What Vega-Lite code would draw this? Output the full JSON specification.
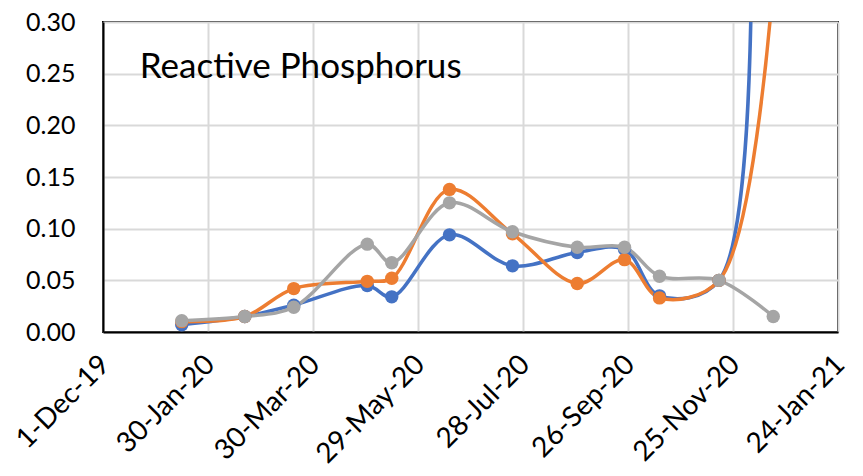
{
  "$schema": "https://vega.github.io/schema/vega-lite/v6.json",
  "autosize": "none",
  "width": 735,
  "height": 310,
  "padding": {"left": 103, "top": 22, "right": 25, "bottom": 144},
  "background": "white",
  "config": {
    "font": "Lato",
    "view": {"stroke": "black", "strokeWidth": 2}
  },
  "data": {
    "values": [
      {"date": "2020-01-15", "series": "Site 1", "value": 0.007},
      {"date": "2020-02-20", "series": "Site 1", "value": 0.015},
      {"date": "2020-03-19", "series": "Site 1", "value": 0.026},
      {"date": "2020-04-30", "series": "Site 1", "value": 0.045},
      {"date": "2020-05-14", "series": "Site 1", "value": 0.034},
      {"date": "2020-06-16", "series": "Site 1", "value": 0.094},
      {"date": "2020-07-22", "series": "Site 1", "value": 0.064},
      {"date": "2020-08-28", "series": "Site 1", "value": 0.077},
      {"date": "2020-09-24", "series": "Site 1", "value": 0.08},
      {"date": "2020-10-14", "series": "Site 1", "value": 0.035},
      {"date": "2020-11-17", "series": "Site 1", "value": 0.05},
      {"date": "2020-11-30", "series": "Site 1", "value": 0.8},
      {"date": "2020-01-15", "series": "Site 2", "value": 0.01},
      {"date": "2020-02-20", "series": "Site 2", "value": 0.015},
      {"date": "2020-03-19", "series": "Site 2", "value": 0.042},
      {"date": "2020-04-30", "series": "Site 2", "value": 0.049},
      {"date": "2020-05-14", "series": "Site 2", "value": 0.052},
      {"date": "2020-06-16", "series": "Site 2", "value": 0.138},
      {"date": "2020-07-22", "series": "Site 2", "value": 0.095},
      {"date": "2020-08-28", "series": "Site 2", "value": 0.047},
      {"date": "2020-09-24", "series": "Site 2", "value": 0.07},
      {"date": "2020-10-14", "series": "Site 2", "value": 0.033},
      {"date": "2020-11-17", "series": "Site 2", "value": 0.05},
      {"date": "2020-12-18", "series": "Site 2", "value": 0.34},
      {"date": "2020-01-15", "series": "Site 3", "value": 0.011},
      {"date": "2020-02-20", "series": "Site 3", "value": 0.015},
      {"date": "2020-03-19", "series": "Site 3", "value": 0.024},
      {"date": "2020-04-30", "series": "Site 3", "value": 0.085},
      {"date": "2020-05-14", "series": "Site 3", "value": 0.067},
      {"date": "2020-06-16", "series": "Site 3", "value": 0.125},
      {"date": "2020-07-22", "series": "Site 3", "value": 0.097},
      {"date": "2020-08-28", "series": "Site 3", "value": 0.082},
      {"date": "2020-09-24", "series": "Site 3", "value": 0.082},
      {"date": "2020-10-14", "series": "Site 3", "value": 0.054},
      {"date": "2020-11-17", "series": "Site 3", "value": 0.05},
      {"date": "2020-12-18", "series": "Site 3", "value": 0.015}
    ]
  },
  "encoding": {
    "x": {
      "field": "date",
      "type": "temporal",
      "title": null,
      "scale": {
        "type": "utc",
        "domain": [
          {"year": 2019, "month": 12, "date": 1, "utc": true},
          {"year": 2021, "month": 1, "date": 24, "utc": true}
        ]
      },
      "axis": {
        "values": [
          {"year": 2019, "month": 12, "date": 1, "utc": true},
          {"year": 2020, "month": 1, "date": 30, "utc": true},
          {"year": 2020, "month": 3, "date": 30, "utc": true},
          {"year": 2020, "month": 5, "date": 29, "utc": true},
          {"year": 2020, "month": 7, "date": 28, "utc": true},
          {"year": 2020, "month": 9, "date": 26, "utc": true},
          {"year": 2020, "month": 11, "date": 25, "utc": true},
          {"year": 2021, "month": 1, "date": 24, "utc": true}
        ],
        "labelExpr": "utcFormat(datum.value, '%-d-%b-%y')",
        "labelAngle": -45,
        "labelAlign": "right",
        "labelBaseline": "middle",
        "labelFontSize": 28,
        "labelColor": "black",
        "labelPadding": 28,
        "labelOffset": 2,
        "labelOverlap": false,
        "labelFlush": false,
        "ticks": false,
        "domainColor": "black",
        "domainWidth": 2,
        "gridColor": "#d9d9d9",
        "gridWidth": 2
      }
    },
    "y": {
      "field": "value",
      "type": "quantitative",
      "title": null,
      "scale": {"domain": [0, 0.3], "nice": false},
      "axis": {
        "values": [0, 0.05, 0.1, 0.15, 0.2, 0.25, 0.3],
        "format": ".2f",
        "labelFontSize": 25,
        "labelColor": "black",
        "labelPadding": 28,
        "ticks": false,
        "domainColor": "black",
        "domainWidth": 2,
        "gridColor": "#d9d9d9",
        "gridWidth": 2
      }
    },
    "color": {
      "field": "series",
      "type": "nominal",
      "legend": null,
      "scale": {
        "domain": ["Site 1", "Site 2", "Site 3"],
        "range": ["#4472C4", "#ED7D31", "#A5A5A5"]
      }
    }
  },
  "layer": [
    {
      "mark": {"type": "line", "interpolate": "catmull-rom", "strokeWidth": 3.5, "clip": true}
    },
    {
      "mark": {"type": "point", "filled": true, "opacity": 1, "size": 180, "clip": true}
    },
    {
      "data": {"values": [{"label": "Reactive Phosphorus", "d": "2019-12-22", "v": 0.256}]},
      "mark": {"type": "text", "align": "left", "baseline": "middle", "fontSize": 35, "color": "black"},
      "encoding": {
        "x": {"field": "d", "type": "temporal"},
        "y": {"field": "v", "type": "quantitative"},
        "text": {"field": "label"},
        "color": {"value": "black"}
      }
    }
  ]
}
